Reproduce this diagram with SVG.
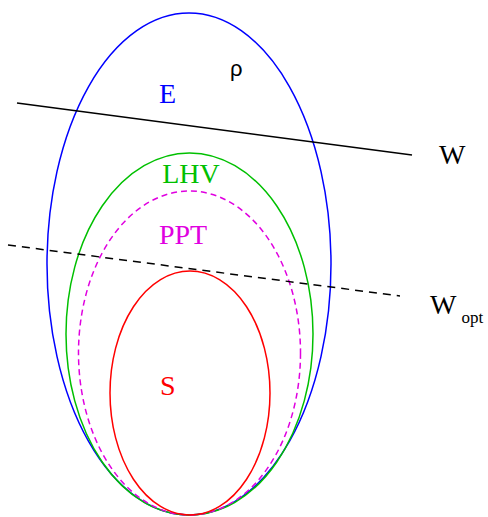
<svg xmlns="http://www.w3.org/2000/svg" width="488" height="517" viewBox="0 0 488 517">
<style>
.sh{fill:none;stroke-width:1.5}
.t{font-family:"Liberation Serif","Times New Roman",serif;font-size:28px}
</style>
<rect width="488" height="517" fill="#fff"/>
<g id="E"><ellipse class="sh" cx="189" cy="264" rx="142" ry="251" stroke="#0000ff"/><text class="t" x="159" y="103" fill="#0000ff" font-size="26">E</text></g>
<g id="LHV"><ellipse class="sh" cx="189.5" cy="334" rx="123.5" ry="181" stroke="#00c000"/><text class="t" x="191" y="183" fill="#00c000" text-anchor="middle">LHV</text></g>
<g id="PPT"><ellipse class="sh" cx="189.5" cy="353" rx="111" ry="162" stroke="#e000e0" stroke-dasharray="6,4" stroke-width="1.2"/><text class="t" x="183" y="244" fill="#e000e0" text-anchor="middle" font-size="29">PPT</text></g>
<g id="S"><ellipse class="sh" cx="190" cy="393" rx="80" ry="122" stroke="#ff0000"/><text class="t" x="160" y="395" fill="#ff0000" font-size="27">S</text></g>
<g id="rho"><text x="230" y="76" font-family="Liberation Sans,Arial,sans-serif" font-size="22" fill="#000">ρ</text></g>
<g id="connectors" stroke="#000" stroke-width="1.5">
<line x1="17" y1="103" x2="412" y2="155"/>
<line x1="8" y1="245" x2="400" y2="296" stroke-dasharray="8,6"/>
</g>
<g id="W"><text class="t" x="439" y="164" fill="#000" font-size="30">W</text></g>
<g id="Wopt"><text class="t" x="430" y="314" fill="#000">W<tspan font-size="17" dx="5" dy="9">opt</tspan></text></g>
</svg>
